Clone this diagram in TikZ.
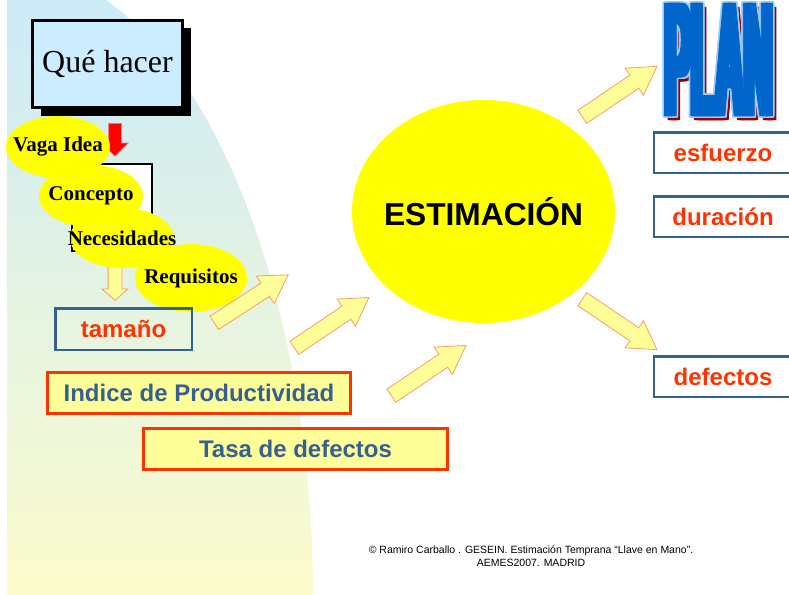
\documentclass[tikz,border=0pt]{standalone}
\usepackage{graphicx}
\usepackage{fontspec}
\setmainfont{Liberation Serif}
\setsansfont{Liberation Sans}
\newfontfamily\planfont[FakeBold=2]{Liberation Sans Bold}
\usetikzlibrary{shapes.arrows,shapes.geometric,shadows}

\definecolor{skyblue}{RGB}{204,236,255}
\definecolor{bgblue}{RGB}{204,234,248}
\definecolor{bgmid}{RGB}{230,243,230}
\definecolor{bgyellow}{RGB}{252,252,204}
\definecolor{sunyellow}{RGB}{255,255,0}
\definecolor{paleyellow}{RGB}{255,255,153}
\definecolor{arrowedge}{RGB}{255,153,102}
\definecolor{boxblue}{RGB}{54,96,146}
\definecolor{textred}{RGB}{255,51,0}
\definecolor{planblue}{RGB}{0,102,204}
\definecolor{planedge}{RGB}{153,204,255}
\definecolor{planshadow}{RGB}{153,0,0}

\newcommand{\planword}{\resizebox{107pt}{110pt}{\planfont PLAN}}
\newcommand{\inbubble}[1]{\makebox[0pt]{#1}}

\begin{document}
\begin{tikzpicture}[x=1pt,y=-1pt]
\tikzstyle{every node}+=[inner sep=0pt]
\tikzstyle{taskbox}=[draw=black,fill=skyblue,line width=3pt,minimum width=150pt,minimum height=87pt,font=\fontsize{32}{32}\selectfont,drop shadow={shadow xshift=8pt,shadow yshift=-8pt,fill=black,opacity=1}]
\tikzstyle{bubble}=[ellipse,fill=sunyellow,font=\bfseries\fontsize{21}{21}\selectfont]
\tikzstyle{sun}=[ellipse,fill=sunyellow,minimum width=263pt,minimum height=223pt,font=\sffamily\bfseries\fontsize{31.7}{32}\selectfont]
\tikzstyle{sizebox}=[draw=boxblue,line width=2.5pt,text=textred,font=\sffamily\bfseries\fontsize{24}{24}\selectfont]
\tikzstyle{factorbox}=[draw=textred,fill=paleyellow,line width=3pt,text=boxblue,font=\sffamily\bfseries\fontsize{24}{24}\selectfont]
\tikzstyle{redarrow}=[single arrow,fill=red,draw=red!55,line width=0.6pt,inner ysep=6pt,inner xsep=0pt,single arrow head extend=7pt,single arrow tip angle=90,minimum height=33pt,rotate=-90,anchor=tail]
\tikzstyle{smallarrow}=[single arrow,fill=paleyellow,draw=arrowedge,line width=0.8pt,inner ysep=6.5pt,inner xsep=0pt,single arrow head extend=6pt,single arrow tip angle=97,minimum height=38pt,rotate=-90,anchor=tail]
\tikzstyle{fatarrow}=[single arrow,fill=paleyellow,draw=arrowedge,line width=0.8pt,inner ysep=7.5pt,inner xsep=0pt,single arrow head extend=8.5pt,single arrow tip angle=62,minimum height=90pt,anchor=tail]
\fill [white] (0,0) rectangle (789,594);
\useasboundingbox (0,0) rectangle (789,594);
\begin{scope}
\clip (7,0) rectangle (789,594);
\clip (7,600) ellipse [x radius=306pt, y radius=634pt];
\shade [top color=bgblue,middle color=bgmid,bottom color=bgyellow] (7,0) rectangle (320,594);
\end{scope}
\node [taskbox] (quehacer) at (107.5,64) {Qué hacer};
\node [draw=black,fill=white,line width=2pt,minimum width=80pt,minimum height=87pt] (frame) at (112,207.5) {};
\node [redarrow] (godown) at (115,123) {};
\node [smallarrow] (tosize) at (115,262) {};
\node [bubble,minimum width=104pt,minimum height=62pt] (vaga) at (58,147) {\inbubble{Vaga Idea}};
\node [bubble,minimum width=104pt,minimum height=62pt] (concepto) at (91,196) {\inbubble{Concepto}};
\node [bubble,minimum width=104pt,minimum height=60pt] (necesidades) at (122,238) {\inbubble{Necesidades}};
\node [bubble,minimum width=112pt,minimum height=68pt] (requisitos) at (191,278) {\inbubble{Requisitos}};
\node [sizebox,minimum width=136.5pt,minimum height=41.5pt] (tamano) at (123.5,329) {tamaño};
\node [factorbox,minimum width=303pt,minimum height=41pt] (productividad) at (199,393) {Indice de Productividad};
\node [factorbox,minimum width=304pt,minimum height=41pt] (tasa) at (295.5,449) {Tasa de defectos};
\coordinate (tailA) at (214,323);
\coordinate (tailB) at (294,348);
\coordinate (tailC) at (391,396);
\coordinate (tailD) at (582,117);
\coordinate (tailE) at (582,299);
\node [fatarrow,rotate=33,minimum height=88pt] (arrA) at (tailA) {};
\node [fatarrow,rotate=34] (arrB) at (tailB) {};
\node [fatarrow,rotate=34] (arrC) at (tailC) {};
\node [sun] (estimacion) at (483.5,211.5) {\inbubble{ESTIMACIÓN}};
\node [fatarrow,rotate=34] (arrD) at (tailD) {};
\node [fatarrow,rotate=-34] (arrE) at (tailE) {};
\foreach \dx [count=\i] in {-3,-1.5,...,3}
  \node [text=planshadow] (planshade\i) at (722+\dx,63.5) {\planword};
\foreach \dx [count=\i] in {-4.5,-3,...,4.5}
  \foreach \dy [count=\j] in {-1.5,0,1.5}
    \node [text=planedge] (planrim\i-\j) at (718.5+\dx,59.5+\dy) {\planword};
\foreach \dx [count=\i] in {-3,-1.5,...,3}
  \node [text=planblue] (plan\i) at (718.5+\dx,59.5) {\planword};
\node [sizebox,fill=white,minimum width=138pt,minimum height=40.5pt] (esfuerzo) at (723,152.5) {esfuerzo};
\node [sizebox,fill=white,minimum width=138pt,minimum height=40.5pt] (duracion) at (723,216.5) {duración};
\node [sizebox,fill=white,minimum width=138pt,minimum height=40.5pt] (defectos) at (723,376.5) {defectos};
\node [align=center,font=\sffamily\fontsize{10.5}{13}\selectfont] (credit) at (531,556) {© Ramiro Carballo . GESEIN. Estimación Temprana “Llave en Mano”.\\AEMES2007. MADRID};
\end{tikzpicture}
\end{document}
